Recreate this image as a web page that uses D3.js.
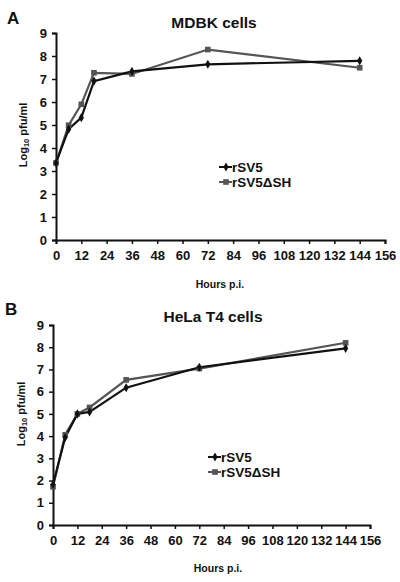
<!DOCTYPE html>
<html><head><meta charset="utf-8">
<script src="https://cdn.jsdelivr.net/npm/d3@7"></script>
<style>body{margin:0;background:#fff;} svg{display:block;font-family:Arial,"Liberation Sans",sans-serif;font-weight:bold;}</style>
</head><body>
<svg id="c" width="400" height="582"></svg>
<script>
const hours = [0, 6, 12, 18, 36, 72, 144];
const xTicks = [0,12,24,36,48,60,72,84,96,108,120,132,144,156];
const yTicks = [0,1,2,3,4,5,6,7,8,9];
const seriesNames = ["rSV5", "rSV5\u0394SH"];
const mdbk_rSV5   = [3.35, 4.82, 5.32, 6.91, 7.33, 7.64, 7.79];
const mdbk_rSV5dSH = [3.35, 4.99, 5.9, 7.27, 7.22, 8.28, 7.49];
const hela_rSV5   = [1.82, 3.94, 5.0, 5.09, 6.18, 7.1, 7.95];
const hela_rSV5dSH = [1.72, 4.06, 5.0, 5.29, 6.53, 7.04, 8.2];

const svg = d3.select("#c");
const FONT = "Arial,'Liberation Sans',sans-serif";

function panel(cfg){
  const g = svg.append("g");
  const x = d3.scaleLinear().domain([0,156]).range([cfg.x0, cfg.x1]);
  const y = d3.scaleLinear().domain([0,9]).range([cfg.y0, cfg.y1]);
  g.append("text").attr("x", cfg.lx).attr("y", cfg.ly).attr("font-size", 17).attr("fill","#111").text(cfg.letter);
  g.append("text").attr("x", cfg.tx).attr("y", cfg.ty).attr("text-anchor","middle").attr("font-size", 15.5).attr("fill","#111").text(cfg.title);
  const xa = g.append("g").attr("transform", `translate(0,${cfg.y0})`)
    .call(d3.axisBottom(x).tickValues(xTicks).tickSize(4).tickPadding(7).tickFormat(d3.format("d")));
  const ya = g.append("g").attr("transform", `translate(${cfg.x0},0)`)
    .call(d3.axisLeft(y).tickValues(yTicks).tickSize(4).tickPadding(5).tickFormat(d3.format("d")));
  [xa, ya].forEach(a => {
    a.select(".domain").attr("stroke","#111").attr("stroke-width",2);
    a.selectAll(".tick line").attr("stroke","#111").attr("stroke-width",1.5);
    a.selectAll(".tick text").attr("fill","#111").attr("font-size",13).attr("font-family",FONT).attr("font-weight","bold");
  });
  g.append("text").attr("x", cfg.hx).attr("y", cfg.hy).attr("text-anchor","middle").attr("font-size",10.5).attr("fill","#111").text("Hours p.i.");
  const yl = g.append("text").attr("transform", `translate(${cfg.yx},${cfg.yy}) rotate(-90)`).attr("text-anchor","middle").attr("font-size",11).attr("fill","#111");
  yl.append("tspan").text("Log");
  yl.append("tspan").attr("font-size",7.5).attr("dy",2).text("10");
  yl.append("tspan").attr("dy",-2).text(" pfu/ml");

  const line = d3.line().x((d,i)=>x(hours[i])).y(d=>y(d));
  const series = [
    {vals: cfg.s2, color:"#555", marker:"square"},
    {vals: cfg.s1, color:"#111", marker:"diamond"}
  ];
  const sq = d3.symbol().type(d3.symbolSquare).size(32);
  const di = d3.symbol().type(d3.symbolDiamond).size(24);
  series.forEach(s => {
    g.append("path").datum(s.vals).attr("d", line).attr("fill","none").attr("stroke", s.color).attr("stroke-width",2.2);
  });
  series.forEach(s => {
    g.selectAll(null).data(s.vals).join("path")
      .attr("transform",(d,i)=>`translate(${x(hours[i])},${y(d)})`)
      .attr("d", s.marker === "square" ? sq : di).attr("fill", s.color);
  });
  const leg = [{name:seriesNames[0], color:"#111", marker:"diamond"},{name:seriesNames[1], color:"#555", marker:"square"}];
  leg.forEach((l,i) => {
    const cy = cfg.legY + i*15;
    g.append("line").attr("x1", cfg.legX).attr("x2", cfg.legX+13).attr("y1",cy).attr("y2",cy).attr("stroke",l.color).attr("stroke-width",2);
    g.append("path").attr("transform",`translate(${cfg.legX+7},${cy})`).attr("d", l.marker === "square" ? sq : di).attr("fill",l.color);
    g.append("text").attr("x", cfg.legX+13).attr("y", cy+5).attr("font-size",13.5).attr("fill","#111").text(l.name);
  });
}

panel({letter:"A", lx:7, ly:24, title:"MDBK cells", tx:214, ty:28,
  x0:56, x1:385, y0:240, y1:33, hx:220, hy:288, yx:27, yy:135,
  s1: mdbk_rSV5, s2: mdbk_rSV5dSH, legX:219, legY:167});
panel({letter:"B", lx:5, ly:315, title:"HeLa T4 cells", tx:213, ty:322,
  x0:53, x1:370, y0:525, y1:325, hx:218, hy:572, yx:25, yy:414,
  s1: hela_rSV5, s2: hela_rSV5dSH, legX:208, legY:457});
</script>
</body></html>
